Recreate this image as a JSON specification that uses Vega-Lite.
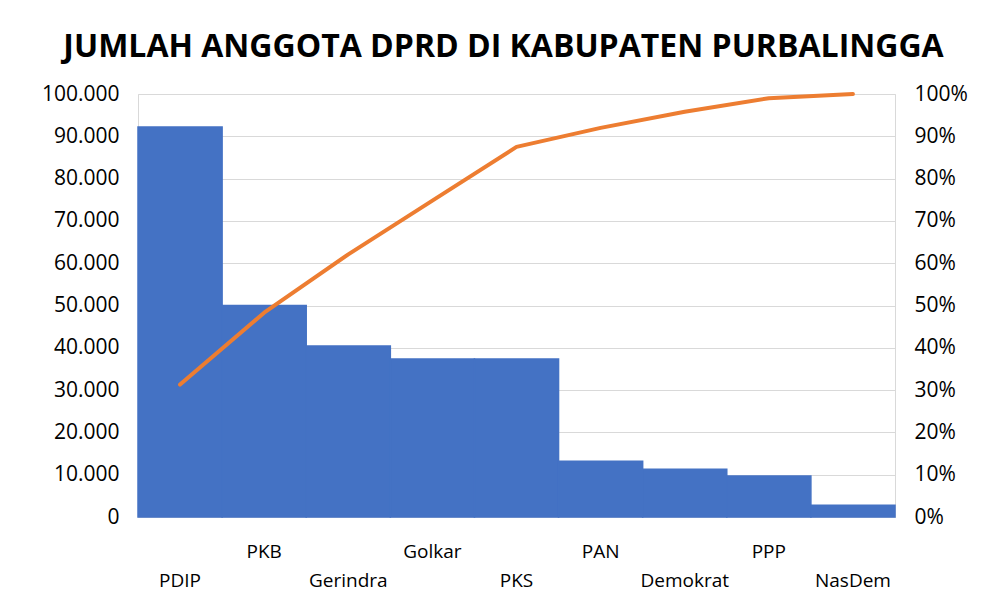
{
  "$schema": "https://vega.github.io/schema/vega-lite/v6.json",
  "autosize": "none",
  "width": 757,
  "height": 423,
  "padding": {"left": 138, "top": 94, "right": 99, "bottom": 85},
  "background": "white",
  "title": {
    "text": "JUMLAH ANGGOTA DPRD DI KABUPATEN PURBALINGGA",
    "font": "Open Sans",
    "fontSize": 32,
    "fontWeight": "bold",
    "color": "#000000",
    "anchor": "middle",
    "baseline": "alphabetic",
    "dx": -13,
    "offset": -6
  },
  "config": {
    "view": {"stroke": "#D9D9D9", "strokeWidth": 1},
    "axis": {"labelFont": "Open Sans", "labelColor": "#000000"}
  },
  "data": {
    "values": [
      {"partai": "PDIP", "jumlah": 92200, "kumulatif": 0.313},
      {"partai": "PKB", "jumlah": 50000, "kumulatif": 0.483},
      {"partai": "Gerindra", "jumlah": 40400, "kumulatif": 0.621},
      {"partai": "Golkar", "jumlah": 37350, "kumulatif": 0.748},
      {"partai": "PKS", "jumlah": 37350, "kumulatif": 0.875},
      {"partai": "PAN", "jumlah": 13200, "kumulatif": 0.920},
      {"partai": "Demokrat", "jumlah": 11300, "kumulatif": 0.958},
      {"partai": "PPP", "jumlah": 9700, "kumulatif": 0.990},
      {"partai": "NasDem", "jumlah": 2800, "kumulatif": 1.0}
    ]
  },
  "encoding": {
    "x": {
      "field": "partai",
      "type": "nominal",
      "sort": null,
      "scale": {"paddingInner": 0, "paddingOuter": 0},
      "axis": {
        "title": null,
        "labelAngle": 0,
        "ticks": false,
        "domain": false,
        "labelFontSize": 19,
        "labelPadding": 25,
        "labelBaseline": "top",
        "labelLineHeight": 29,
        "labelOverlap": false,
        "labelExpr": "indexof(['PKB','Golkar','PAN','PPP'], datum.value) >= 0 ? datum.value : ['', datum.value]"
      }
    }
  },
  "layer": [
    {
      "mark": {"type": "bar", "color": "#4472C4", "stroke": "#4472C4", "strokeWidth": 1.5},
      "encoding": {
        "y": {
          "field": "jumlah",
          "type": "quantitative",
          "scale": {"domain": [0, 100000], "nice": false},
          "axis": {
            "title": null,
            "values": [0, 10000, 20000, 30000, 40000, 50000, 60000, 70000, 80000, 90000, 100000],
            "labelExpr": "replace(format(datum.value, ','), ',', '.')",
            "grid": true,
            "gridColor": "#D9D9D9",
            "gridWidth": 1,
            "ticks": false,
            "domain": false,
            "labelFontSize": 21,
            "labelPadding": 19
          }
        }
      }
    },
    {
      "mark": {"type": "line", "color": "#ED7D31", "strokeWidth": 4, "strokeCap": "round", "strokeJoin": "round"},
      "encoding": {
        "y": {
          "field": "kumulatif",
          "type": "quantitative",
          "scale": {"domain": [0, 1], "nice": false},
          "axis": {
            "title": null,
            "orient": "right",
            "values": [0, 0.1, 0.2, 0.3, 0.4, 0.5, 0.6, 0.7, 0.8, 0.9, 1],
            "format": ".0%",
            "grid": false,
            "ticks": false,
            "domain": false,
            "labelFontSize": 21,
            "labelPadding": 19
          }
        }
      }
    }
  ],
  "resolve": {"scale": {"y": "independent"}}
}
